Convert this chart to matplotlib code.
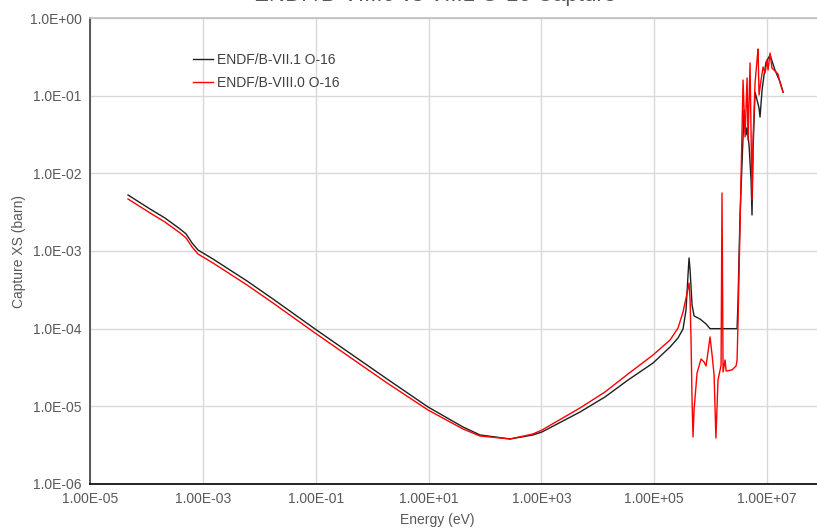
import matplotlib
matplotlib.use("Agg")
import matplotlib.pyplot as plt
from matplotlib.ticker import FixedLocator, FixedFormatter, NullLocator

plt.rcParams['font.family'] = ['Liberation Sans', 'DejaVu Sans']

# O-16 capture cross section, ENDF/B-VII.1 (energy in eV, xs in barn)
energy_vii1 = [4.72e-5, 1.16e-4, 2.13e-4, 3.94e-4, 5.04e-4, 6.43e-4, 8.20e-4, 1.51e-3,
               6.07e-3, 1.75e-2, 9.73e-2, 1.84, 9.79, 40.8, 81.7, 278, 711, 1026,
               4840, 1.34e4, 3.43e4, 9.52e4, 1.91e5, 2.64e5, 3.24e5, 3.66e5, 3.97e5,
               4.14e5, 4.32e5, 4.68e5, 5.08e5, 6.49e5, 8.28e5, 9.75e5, 2.94e6, 3.06e6,
               3.18e6, 3.32e6, 3.91e6, 4.24e6, 4.42e6, 4.79e6, 5.20e6, 5.41e6, 5.64e6,
               6.12e6, 6.64e6, 7.20e6, 7.50e6, 8.15e6, 8.83e6, 9.59e6, 1.13e7, 1.38e7,
               1.70e7, 1.92e7]
xs_vii1 = [5.26e-3, 3.47e-3, 2.66e-3, 1.92e-3, 1.66e-3, 1.27e-3, 1.03e-3, 7.89e-4,
           4.11e-4, 2.41e-4, 9.91e-5, 2.25e-5, 9.81e-6, 5.42e-6, 4.28e-6, 3.80e-6, 4.28e-6,
           4.68e-6, 8.45e-6, 1.32e-5, 2.18e-5, 3.61e-5, 5.81e-5, 7.59e-5, 9.91e-5, 1.74e-4,
           4.91e-4, 8.13e-4, 5.70e-4, 2.02e-4, 1.46e-4, 1.33e-4, 1.15e-4, 1.0e-4, 1.0e-4,
           2.34e-4, 8.37e-4, 2.91e-3, 6.54e-2, 3.12e-2, 3.84e-2, 2.32e-2, 8.20e-3, 2.91e-3,
           2.00e-2, 0.111, 8.80e-2, 6.94e-2, 5.31e-2, 0.118, 0.185, 0.271, 0.334, 0.214,
           0.150, 0.111]

# O-16 capture cross section, ENDF/B-VIII.0 (energy in eV, xs in barn)
energy_viii0 = [4.72e-5, 1.16e-4, 2.13e-4, 3.94e-4, 5.04e-4, 6.43e-4, 8.20e-4, 1.51e-3,
                6.07e-3, 1.75e-2, 9.73e-2, 1.84, 9.79, 40.8, 81.7, 278, 711, 1026,
                4840, 1.34e4, 3.43e4, 9.52e4, 1.91e5, 2.64e5, 3.24e5, 3.66e5, 4.14e5,
                4.32e5, 4.49e5, 4.68e5, 4.87e5, 5.08e5, 5.74e5, 6.76e5, 7.64e5, 8.28e5,
                8.98e5, 9.75e5, 1.06e6, 1.15e6, 1.24e6, 1.35e6, 1.47e6, 1.53e6, 1.59e6,
                1.66e6, 1.80e6, 1.88e6, 2.39e6, 2.82e6, 2.94e6, 3.06e6, 3.32e6, 3.60e6,
                3.75e6, 4.07e6, 4.42e6, 4.60e6, 4.99e6, 5.41e6, 5.64e6, 6.12e6, 6.64e6,
                6.92e6, 7.20e6, 7.82e6, 8.49e6, 9.21e6, 1.0e7, 1.04e7, 1.13e7, 1.22e7,
                1.38e7, 1.56e7, 1.70e7, 1.92e7]
xs_viii0 = [4.67e-3, 3.09e-3, 2.36e-3, 1.71e-3, 1.47e-3, 1.13e-3, 9.15e-4, 7.01e-4,
            3.65e-4, 2.14e-4, 8.80e-5, 2.00e-5, 8.97e-6, 5.11e-6, 4.15e-6, 3.80e-6, 4.41e-6,
            4.96e-6, 9.53e-6, 1.53e-5, 2.61e-5, 4.58e-5, 7.15e-5, 1.02e-4, 1.64e-4, 2.48e-4,
            3.87e-4, 2.34e-4, 7.15e-5, 1.21e-5, 4.03e-6, 8.97e-6, 2.69e-5, 4.07e-5, 3.72e-5,
            3.31e-5, 5.01e-5, 7.82e-5, 4.58e-5, 2.53e-5, 3.91e-6, 2.18e-5, 2.94e-5, 3.39e-5,
            5.58e-3, 2.77e-5, 3.95e-5, 2.85e-5, 2.94e-5, 3.31e-5, 3.95e-5, 1.29e-4, 2.16e-3,
            3.61e-2, 0.159, 2.94e-2, 0.169, 2.69e-2, 0.264, 4.54e-3, 2.69e-2, 0.146, 0.288,
            0.399, 0.102, 0.159, 0.234, 0.196, 0.288, 0.214, 0.354, 0.227, 0.208, 0.190,
            0.146, 0.111]

series_labels = ["ENDF/B-VII.1 O-16", "ENDF/B-VIII.0 O-16"]
title_text = "ENDF/B-VIII.0 vs VII.1 O-16 Capture"

x_ticks = [1e-5, 1e-3, 1e-1, 1e1, 1e3, 1e5, 1e7]
x_tick_labels = ["1.00E-05", "1.00E-03", "1.00E-01", "1.00E+01", "1.00E+03",
                 "1.00E+05", "1.00E+07"]
y_ticks = [1e-6, 1e-5, 1e-4, 1e-3, 1e-2, 1e-1, 1e0]
y_tick_labels = ["1.0E-06", "1.0E-05", "1.0E-04", "1.0E-03", "1.0E-02", "1.0E-01",
                 "1.0E+00"]

W, H = 817, 529
fig = plt.figure(figsize=(W / 100, H / 100), dpi=100)
ax = fig.add_axes([90 / W, 45 / H, 733.5 / W, 466 / H])

text_color = "#595959"
ax.plot(energy_vii1, xs_vii1, color="#1f1f1f", lw=1.0, label=series_labels[0], zorder=3)
ax.plot(energy_viii0, xs_viii0, color="#ff0000", lw=1.0, label=series_labels[1], zorder=4)

ax.set_xscale("log")
ax.set_yscale("log")
ax.set_xlim(1e-5, 1e8)
ax.set_ylim(1e-6, 1e0)

ax.xaxis.set_major_locator(FixedLocator(x_ticks))
ax.xaxis.set_major_formatter(FixedFormatter(x_tick_labels))
ax.xaxis.set_minor_locator(NullLocator())
ax.yaxis.set_major_locator(FixedLocator(y_ticks))
ax.yaxis.set_major_formatter(FixedFormatter(y_tick_labels))
ax.yaxis.set_minor_locator(NullLocator())

ax.tick_params(axis="both", length=0, labelsize=10, labelcolor=text_color, pad=6)
ax.grid(True, which="major", color="#d9d9d9", lw=1.0, zorder=0)
ax.set_axisbelow(True)

ax.spines["right"].set_visible(False)
ax.spines["top"].set_color("#bfbfbf")
ax.spines["left"].set_color("#404040")
ax.spines["bottom"].set_color("#000000")
for s in ("top", "left", "bottom"):
    ax.spines[s].set_linewidth(1.2)

ax.set_xlabel("Energy (eV)", fontsize=10, color=text_color)
ax.set_ylabel("Capture XS (barn)", fontsize=10, color=text_color)
ax.xaxis.set_label_coords((437 - 90) / 733.5, -(513 - 484) / 466)
ax.yaxis.set_label_coords(-(90 - 26) / 733.5, (484 - 252) / 466)

leg = ax.legend(loc="upper left", bbox_to_anchor=((193 - 90) / 733.5, (484 - 53) / 466),
                frameon=False, fontsize=10, handlelength=1.45, handletextpad=0.25,
                labelspacing=0.65, borderaxespad=0, borderpad=0)
for t in leg.get_texts():
    t.set_color("#404040")

fig.text(435 / W, 1 - 1.5 / H, title_text, ha="center", va="baseline",
         fontsize=16, color=text_color)

fig.savefig("out.png", dpi=100)
